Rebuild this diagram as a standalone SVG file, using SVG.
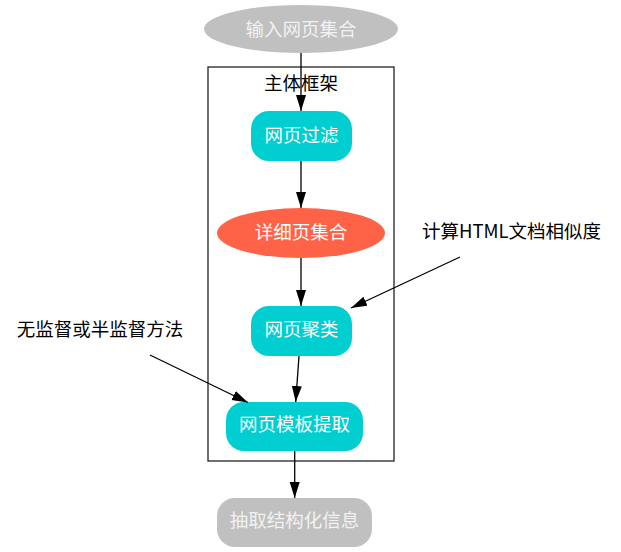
<svg xmlns="http://www.w3.org/2000/svg" width="621" height="552" viewBox="0 0 621 552">
<style>
text{font-family:"Noto Sans CJK SC","Noto Sans",sans-serif;font-size:18.5px;text-anchor:middle}
.w{fill:#ffffff}
.g{fill:#f2f2f2}
.k{fill:#000000}
.c{fill:#00ced1}
.e{stroke:#000;stroke-width:1.3;fill:none;marker-end:url(#ah)}
</style>
<defs>
<marker id="ah" markerUnits="userSpaceOnUse" markerWidth="17" markerHeight="11" refX="16" refY="5" orient="auto">
<path d="M0,0 L16,5 L0,10 z" fill="#000"/>
</marker>
</defs>
<rect id="cluster" x="208" y="67" width="186" height="394" fill="none" stroke="#222" stroke-width="1.3"/>
<text class="k" x="301" y="90">主体框架</text>
<g id="input"><ellipse cx="301" cy="29" rx="97" ry="24" fill="#c0c0c0"/><text class="g" x="301" y="35.5">输入网页集合</text></g>
<g id="filter"><rect class="c" x="251" y="111" width="101" height="50" rx="18"/><text class="w" x="301.5" y="142">网页过滤</text></g>
<g id="detail"><ellipse cx="301" cy="233" rx="84" ry="25" fill="#ff6347"/><text class="w" x="301" y="239">详细页集合</text></g>
<g id="cluster_node"><rect class="c" x="251" y="306" width="101" height="50" rx="18"/><text class="w" x="301.5" y="335.5">网页聚类</text></g>
<g id="template"><rect class="c" x="226" y="402" width="137" height="49" rx="18"/><text class="w" x="294.5" y="431">网页模板提取</text></g>
<g id="output"><rect x="217" y="498" width="155" height="49" rx="18" fill="#c0c0c0"/><text class="g" x="294.5" y="527">抽取结构化信息</text></g>
<g id="html_label"><text class="k" x="511.5" y="237.5">计算HTML文档相似度</text></g>
<g id="method_label"><text class="k" x="100" y="335.5">无监督或半监督方法</text></g>
<g id="edges">
<path class="e" d="M301,53 L301,111"/>
<path class="e" d="M301,161 L301,208"/>
<path class="e" d="M301,258 L301,306"/>
<path class="e" d="M460,257 L351,308"/>
<path class="e" d="M299,356 L295.7,402"/>
<path class="e" d="M150,355 L248,402.5"/>
<path class="e" d="M294.7,451 L294.7,498"/>
</g>
</svg>
